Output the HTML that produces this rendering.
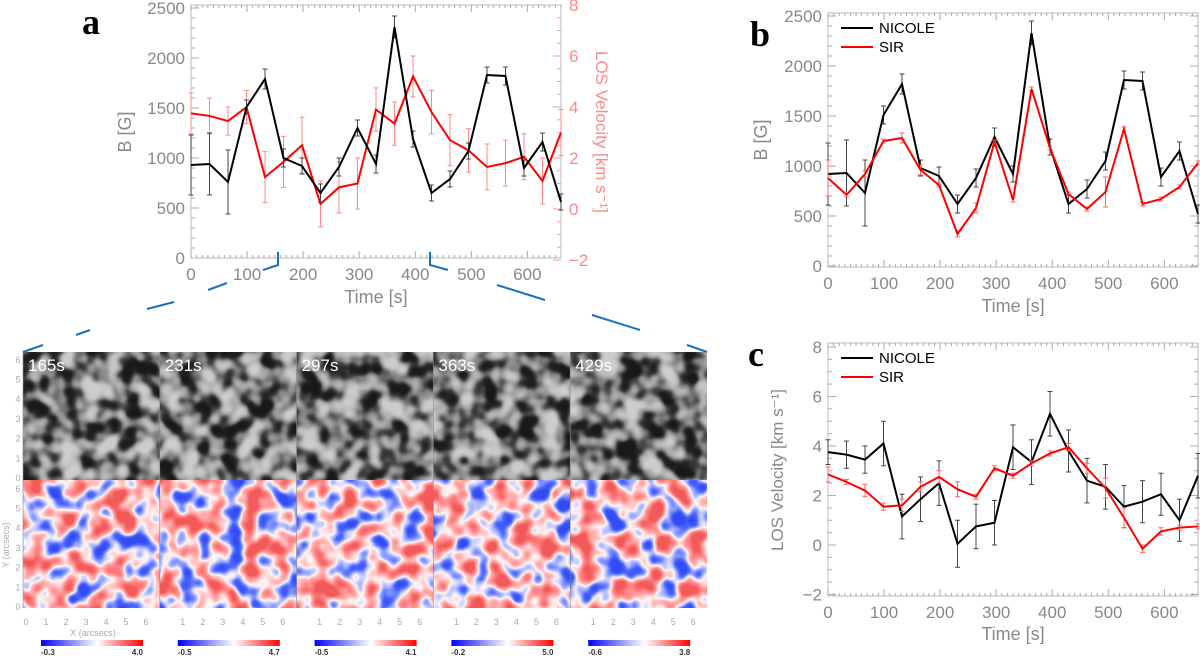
<!DOCTYPE html>
<html><head><meta charset="utf-8"><style>
html,body{margin:0;padding:0;background:#fff;}
svg{display:block;font-family:"Liberation Sans",sans-serif;}
</style></head><body>
<svg id="fig" width="1200" height="656" viewBox="0 0 1200 656" xmlns="http://www.w3.org/2000/svg">
<defs>
<linearGradient id="cbar" x1="0" x2="1" y1="0" y2="0"><stop offset="0" stop-color="#0000ff"/><stop offset="0.55" stop-color="#ffffff"/><stop offset="1" stop-color="#ff0000"/></linearGradient>
</defs>
<g id="images"></g>
<g id="pa"></g>
<g id="pb"></g>
<g id="pc"></g>
<g stroke="#1a6fc0" stroke-width="2" fill="none">
<path d="M278,252 L278,265 L263,270 M227,283 L208,290 M174,302 L147,309 M90,330 L76,335 M43,345 L23,352"/>
<path d="M430,252 L430,265 L448,270 M497,285 L545,300 M592,315 L640,330 M687,345 L707,352"/>
</g>
<text x="82" y="34" font-family="Liberation Serif" font-weight="bold" font-size="36">a</text>
<text x="750" y="46" font-family="Liberation Serif" font-weight="bold" font-size="36">b</text>
<text x="748" y="366" font-family="Liberation Serif" font-weight="bold" font-size="36">c</text>
</svg>
<script>
const times = [0,33,66,99,132,165,198,231,264,297,330,363,396,429,462,495,528,561,594,627,660];
const aB = [930,940,760,1510,1790,1000,920,650,910,1300,940,2310,1190,650,790,1070,1830,1820,900,1160,560];
const aBErr = [300,310,320,70,100,90,80,90,90,80,90,110,80,80,80,80,80,90,80,90,80];
const aV = [3.75,3.65,3.45,4.0,1.25,1.85,2.5,0.2,0.85,1.0,3.9,3.35,5.2,3.8,2.7,2.3,1.65,1.8,2.05,1.1,3.0];
const aVErr = [0.8,0.7,0.55,0.65,1.0,1.0,1.1,0.9,1.0,1.0,0.85,0.85,0.8,0.85,1.0,0.85,0.9,0.9,0.9,0.9,0.9];
const bNicole = [920,930,730,1510,1820,980,900,620,880,1290,920,2330,1190,620,770,1050,1860,1850,890,1150,520];
const bNicoleErr = [310,330,330,90,100,80,90,90,90,90,80,120,80,90,90,90,90,90,90,90,90];
const bSir = [880,710,920,1250,1280,960,810,320,580,1240,660,1770,1180,720,570,740,1370,620,670,790,1030];
const bSirErr = [180,20,30,20,50,50,20,30,50,20,20,20,20,20,20,150,20,20,20,20,20];
const cNicole = [3.75,3.65,3.45,4.1,1.15,1.85,2.5,0.05,0.75,0.9,3.95,3.35,5.3,3.8,2.6,2.35,1.55,1.75,2.05,1.0,2.8];
const cNicoleErr = [0.5,0.55,0.55,0.9,0.9,0.9,0.9,0.95,0.9,0.9,0.9,0.9,0.9,0.85,0.9,0.9,0.85,0.85,0.85,0.85,0.9];
const cSir = [2.85,2.55,2.2,1.55,1.6,2.35,2.75,2.25,1.95,3.1,2.8,3.3,3.7,3.95,3.1,2.3,1.1,-0.15,0.55,0.7,0.75];
const cSirErr = [0.3,0.1,0.25,0.15,0.25,0.2,0.25,0.3,0.1,0.1,0.1,0.1,0.1,0.15,0.2,0.4,0.4,0.15,0.15,0.1,0.1];
const xTicks = [0,100,200,300,400,500,600];
const bTicks = [0,500,1000,1500,2000,2500];
const vTicks = [-2,0,2,4,6,8];
const frameLabels = ["165s","231s","297s","363s","429s"];
const cbMin = ["-0.3","-0.5","-0.5","-0.2","-0.6"];
const cbMax = ["4.0","4.7","4.1","5.0","3.8"];

const NS="http://www.w3.org/2000/svg";
function mk(parent,tag,attrs,text){const e=document.createElementNS(NS,tag);for(const k in attrs)e.setAttribute(k,attrs[k]);if(text!==undefined)e.textContent=text;parent.appendChild(e);return e;}
function lin(d0,d1,r0,r1){return v=>r0+(v-d0)*(r1-r0)/(d1-d0);}

function frame(g,L,R,T,B,xs){
  const f=mk(g,'rect',{x:L,y:T,width:R-L,height:B-T,fill:'none',stroke:'#bbb','stroke-width':1});
  
  
  for(let t=0;t<=660;t+=10){const x=xs(t);const len=(t%100===0)?7:3;
    mk(g,'line',{x1:x,x2:x,y1:B,y2:B-len,stroke:'#aaa'});mk(g,'line',{x1:x,x2:x,y1:T,y2:T+len,stroke:'#aaa'});}
  xTicks.forEach(t=>{const tx=mk(g,'text',{x:xs(t),y:B+22,'text-anchor':'middle','font-size':17,fill:'#888'},String(t));
    
    });
}
function yaxis(g,L,R,ys,ticks,minorStep,lo,hi,color,side,fmt){
  for(let v=Math.ceil(lo/minorStep)*minorStep;v<=hi;v+=minorStep){const y=ys(v);const major=Math.abs(v/(ticks[1]-ticks[0])-Math.round(v/(ticks[1]-ticks[0])))<1e-6;const len=major?8:4;
    if(side!=='right')mk(g,'line',{x1:L,x2:L+len,y1:y,y2:y,stroke:'#aaa'});
    if(side!=='left')mk(g,'line',{x1:R,x2:R-len,y1:y,y2:y,stroke:side==='right'?'#f99':'#aaa'});}
  ticks.forEach(v=>{const x=side==='right'?R+8:L-6;
    const tx=mk(g,'text',{x:x,y:ys(v)+6,'text-anchor':side==='right'?'start':'end','font-size':17,fill:color},fmt(v));
    
    });
}
function series(g,xs,ys,vals,errs,color,ecolor,name){
  const eg=mk(g,'g',{});
  
  
  vals.forEach((v,i)=>{const x=xs(times[i]),y1=ys(v-errs[i]),y2=ys(v+errs[i]);
    mk(eg,'line',{x1:x,x2:x,y1:y1,y2:y2,stroke:ecolor,'stroke-width':1});
    mk(eg,'line',{x1:x-2.5,x2:x+2.5,y1:y1,y2:y1,stroke:ecolor});mk(eg,'line',{x1:x-2.5,x2:x+2.5,y1:y2,y2:y2,stroke:ecolor});});
  const p=mk(g,'polyline',{points:vals.map((v,i)=>xs(times[i])+','+ys(v)).join(' '),fill:'none',stroke:color,'stroke-width':2});
  
  
}
function legend(g,x,y){
  [['NICOLE','#000'],['SIR','#f00']].forEach((d,i)=>{const yy=y+i*19;
    mk(g,'line',{x1:x,x2:x+32,y1:yy,y2:yy,stroke:d[1],'stroke-width':2});
    const t=mk(g,'text',{x:x+38,y:yy+5,'font-size':15,fill:'#000'},d[0]);
    
    });
}
const vfmt=v=>v<0?'\u2212'+(-v):String(v);

// Panel a
(function(){const g=document.getElementById('pa');const L=191,R=561,T=5,B=258;
  const xs=lin(0,660,L,R),ysB=lin(0,2530,B,T),ysV=lin(-1.92,8.0,B,T);
  yaxis(g,L,R,ysB,bTicks,100,0,2500,'#888','left',String);
  yaxis(g,L,R,ysV,vTicks,0.5,-2,8,'#f88','right',vfmt);
  frame(g,L,R,T,B,xs);
  series(g,xs,ysV,aV,aVErr,'#f00','#f88','a-velocity');
  series(g,xs,ysB,aB,aBErr,'#000','#444','a-field');
  let t=mk(g,'text',{x:376,y:303,'text-anchor':'middle','font-size':18,fill:'#888'},'Time [s]');
  t=mk(g,'text',{transform:'translate(131,132) rotate(-90)','text-anchor':'middle','font-size':18,fill:'#888'},'B [G]');
  t=mk(g,'text',{transform:'translate(596,132) rotate(90)','text-anchor':'middle','font-size':17,fill:'#f88'},'LOS Velocity [km s\u207B\u00B9]');
})();
// Panel b
(function(){const g=document.getElementById('pb');const L=828,R=1198,T=13,B=267;
  const xs=lin(0,660,L,R),ys=lin(-10,2530,B,T);
  yaxis(g,L,R,ys,bTicks,100,0,2500,'#888','both',String);
  frame(g,L,R,T,B,xs);
  series(g,xs,ys,bNicole,bNicoleErr,'#000','#444','b-nicole');
  series(g,xs,ys,bSir,bSirErr,'#f00','#f66','b-sir');
  legend(g,841,28);
  let t=mk(g,'text',{x:1013,y:312,'text-anchor':'middle','font-size':18,fill:'#888'},'Time [s]');
  t=mk(g,'text',{transform:'translate(767,140) rotate(-90)','text-anchor':'middle','font-size':18,fill:'#888'},'B [G]');
})();
// Panel c
(function(){const g=document.getElementById('pc');const L=828,R=1198,T=343,B=596;
  const xs=lin(0,660,L,R),ys=lin(-2.06,8.16,B,T);
  yaxis(g,L,R,ys,vTicks,0.5,-2,8,'#888','both',vfmt);
  frame(g,L,R,T,B,xs);
  series(g,xs,ys,cNicole,cNicoleErr,'#000','#444','c-nicole');
  series(g,xs,ys,cSir,cSirErr,'#f00','#f66','c-sir');
  legend(g,841,358);
  let t=mk(g,'text',{x:1013,y:640,'text-anchor':'middle','font-size':18,fill:'#888'},'Time [s]');
  t=mk(g,'text',{transform:'translate(783,470) rotate(-90)','text-anchor':'middle','font-size':17,fill:'#888'},'LOS Velocity [km s\u207B\u00B9]');
})();
// Image panels
(function(){const g=document.getElementById('images');const defs=document.querySelector('defs');
  const X0=23,W=136.8,T1=352,T2=480,B2=608;
  function stretch(f,slope,icpt){const c=mk(f,'feComponentTransfer',{});
    ['feFuncR','feFuncG','feFuncB'].forEach(n=>mk(c,n,{type:'linear',slope:slope,intercept:icpt}));}
  frameLabels.forEach((lab,i)=>{const x=X0+i*W;
    const fg=mk(defs,'filter',{id:'gran'+i,x:x,y:T1,width:W,height:T2-T1,filterUnits:'userSpaceOnUse','color-interpolation-filters':'sRGB'});
    mk(fg,'feTurbulence',{type:'fractalNoise',baseFrequency:'0.05',numOctaves:2,seed:3+i*7});
    mk(fg,'feColorMatrix',{type:'matrix',values:'1 0 0 0 0 1 0 0 0 0 1 0 0 0 0 0 0 0 0 1'});
    stretch(fg,2.2,-0.6);
    const ct=mk(fg,'feComponentTransfer',{});
    ['feFuncR','feFuncG','feFuncB'].forEach(f=>mk(ct,f,{type:'table',tableValues:'0.1 0.14 0.28 0.5 0.65 0.75 0.8'}));
    const fv=mk(defs,'filter',{id:'vel'+i,x:x,y:T2,width:W,height:B2-T2,filterUnits:'userSpaceOnUse','color-interpolation-filters':'sRGB'});
    mk(fv,'feTurbulence',{type:'fractalNoise',baseFrequency:'0.045',numOctaves:2,seed:5+i*11});
    mk(fv,'feColorMatrix',{type:'matrix',values:'1 0 0 0 0 1 0 0 0 0 1 0 0 0 0 0 0 0 0 1'});
    stretch(fv,2.2,-0.55);
    const cv=mk(fv,'feComponentTransfer',{});
    mk(cv,'feFuncR',{type:'table',tableValues:'0.2 0.3 0.65 1 1 1 0.95'});
    mk(cv,'feFuncG',{type:'table',tableValues:'0.3 0.4 0.7 0.97 0.7 0.5 0.35'});
    mk(cv,'feFuncB',{type:'table',tableValues:'0.95 1 1 0.97 0.7 0.5 0.35'});
    let r=mk(g,'rect',{x:x,y:T1,width:W,height:T2-T1,fill:'#888',filter:'url(#gran'+i+')'});
    
    
    r=mk(g,'rect',{x:x,y:T2,width:W,height:B2-T2,fill:'#f99',filter:'url(#vel'+i+')'});
    
    
    mk(g,'line',{x1:x,x2:x,y1:T1,y2:B2,stroke:'#888','stroke-width':0.6});
    let t=mk(g,'text',{x:x+5,y:T1+19,'font-size':17,fill:'#fff'},lab);
    
    
    for(let k=(i===0?0:1);k<=6;k++){t=mk(g,'text',{x:x+3+k*20,y:625,'text-anchor':'middle','font-size':9,fill:'#aaa'},String(k));
      
      }
    r=mk(g,'rect',{x:x+18,y:640,width:102,height:6,fill:'url(#cbar)'});
    
    
    t=mk(g,'text',{x:x+18,y:655,'font-size':8,'font-weight':'bold',fill:'#333'},cbMin[i]);
    
    
    t=mk(g,'text',{x:x+120,y:655,'text-anchor':'end','font-size':8,'font-weight':'bold',fill:'#333'},cbMax[i]);
    
    
  });
  for(let k=0;k<=6;k++){
    mk(g,'text',{x:18,y:480-3-k*19.7+4,'text-anchor':'middle','font-size':9,fill:'#aaa'},String(k));
    mk(g,'text',{x:18,y:606-k*19.7+4,'text-anchor':'middle','font-size':9,fill:'#aaa'},String(k));}
  let t=mk(g,'text',{x:93,y:636,'text-anchor':'middle','font-size':9,fill:'#aaa'},'X (arcsecs)');
  
  t=mk(g,'text',{transform:'translate(9,545) rotate(-90)','text-anchor':'middle','font-size':9,fill:'#aaa'},'Y (arcsecs)');
  
})();
</script>
</body></html>
